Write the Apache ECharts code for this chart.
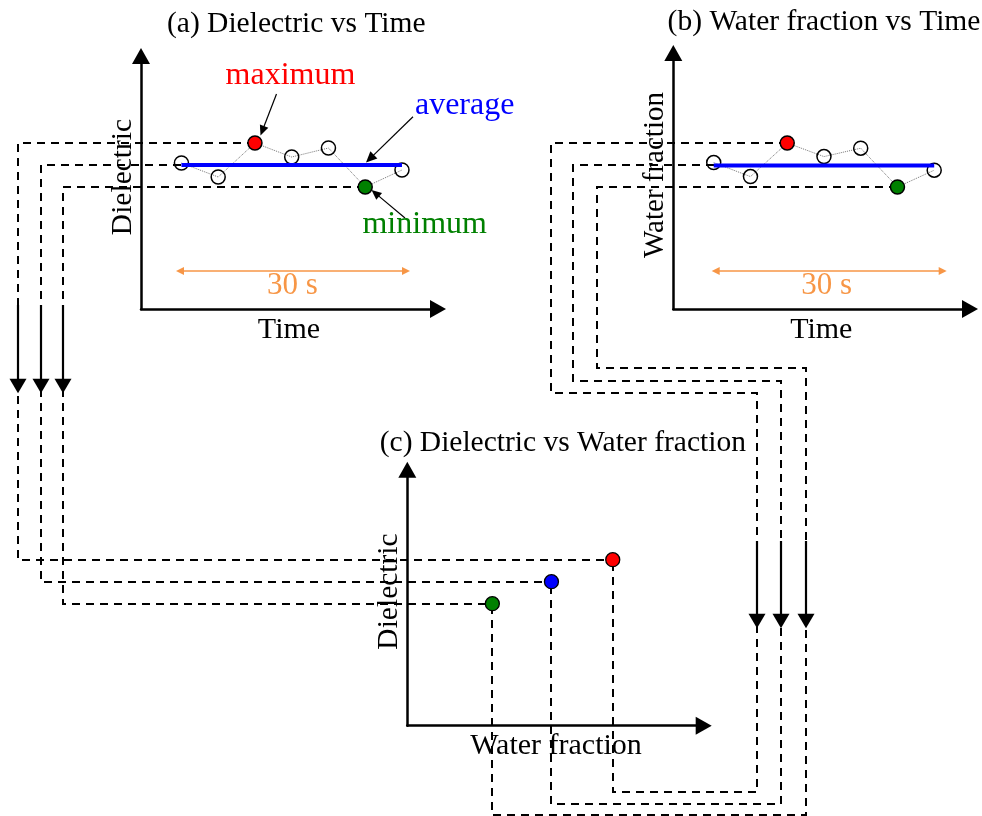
<!DOCTYPE html>
<html><head><meta charset="utf-8">
<script src="https://cdn.jsdelivr.net/npm/echarts@6/dist/echarts.min.js"></script>
<style>html,body{margin:0;padding:0;background:#fff}#chart{width:982px;height:816px}</style>
</head><body><div id="chart"></div>
<script>
// ---------- data ----------
const timeSeconds = [0, 5, 10, 15, 20, 25, 30];
const dielectricValues = [14.6, 13.2, 16.6, 15.2, 16.1, 12.2, 13.9];
const waterFractionValues = [0.366, 0.331, 0.415, 0.381, 0.402, 0.305, 0.347];
const dielectricAverage = 14.4;
const waterFractionAverage = 0.359;
const maxIndex = 2;
const minIndex = 5;
const summaryNames = ['maximum', 'average', 'minimum'];
const summaryDielectric = [16.6, 14.4, 12.2];
const summaryWaterFraction = [0.415, 0.359, 0.305];
const summaryColors = ['#ff0000', '#0000ff', '#008000'];
const panelTitles = ['(a) Dielectric vs Time', '(b) Water fraction vs Time', '(c) Dielectric vs Water fraction'];
const axisNames = { time: 'Time', dielectric: 'Dielectric', water: 'Water fraction' };
const windowLabel = '30 s';

// ---------- helpers ----------
const FONT = '"Liberation Serif", "Times New Roman", serif';
const ORANGE = '#F79646';
function axisBase(extra) {
  return Object.assign({
    type: 'value',
    axisLine: { show: true, onZero: false, symbol: ['none', 'triangle'], symbolSize: [18, 16],
      lineStyle: { color: '#000', width: 2.5 } },
    axisTick: { show: false }, axisLabel: { show: false }, splitLine: { show: false }
  }, extra);
}
function txt(text, x, y, size, color, rot) {
  return { type: 'text', x: x, y: y, rotation: rot || 0, z: 30,
    style: { text: text, font: size + 'px ' + FONT, fill: color,
      align: 'center', verticalAlign: 'middle', textAlign: 'center', textVerticalAlign: 'middle' } };
}
function head(tip, from, len, hw, color) {
  const dx = tip[0] - from[0], dy = tip[1] - from[1];
  const L = Math.sqrt(dx * dx + dy * dy);
  const ux = dx / L, uy = dy / L;
  const bx = tip[0] - ux * len, by = tip[1] - uy * len;
  return { type: 'polygon', z: 25, shape: { points: [[tip[0], tip[1]], [bx - uy * hw, by + ux * hw], [bx + uy * hw, by - ux * hw]] },
    style: { fill: color } };
}
function seg(p1, p2, color, w, z) {
  return { type: 'line', z: z || 25, shape: { x1: p1[0], y1: p1[1], x2: p2[0], y2: p2[1] }, style: { stroke: color, lineWidth: w } };
}
function arrow(from, tip, color, w, len, hw, out) {
  const dx = tip[0] - from[0], dy = tip[1] - from[1];
  const L = Math.sqrt(dx * dx + dy * dy);
  const end = [tip[0] - dx / L * len * 0.8, tip[1] - dy / L * len * 0.8];
  out.push(seg(from, end, color, w));
  out.push(head(tip, from, len, hw, color));
}

const chart = echarts.init(document.getElementById('chart'), null, { renderer: 'canvas' });

const timeSeriesA = timeSeconds.map((t, i) => {
  const item = { value: [t, dielectricValues[i]] };
  if (i === maxIndex) item.itemStyle = { color: summaryColors[0] };
  if (i === minIndex) item.itemStyle = { color: summaryColors[2] };
  return item;
});
const timeSeriesB = timeSeconds.map((t, i) => {
  const item = { value: [t, waterFractionValues[i]] };
  if (i === maxIndex) item.itemStyle = { color: summaryColors[0] };
  if (i === minIndex) item.itemStyle = { color: summaryColors[2] };
  return item;
});
const lastT = timeSeconds[timeSeconds.length - 1];

const pointStyle = { color: 'rgba(255,255,255,0)', borderColor: '#000', borderWidth: 1.5, opacity: 1 };
const dotted = { color: '#777', width: 1, type: 'dotted' };

chart.setOption({
  animation: false,
  backgroundColor: '#fff',
  grid: [
    { left: 141, top: 56, width: 297, height: 253 },
    { left: 673.3, top: 53, width: 296.7, height: 256 },
    { left: 407.3, top: 469.7, width: 296.4, height: 256 }
  ],
  xAxis: [
    axisBase({ gridIndex: 0, min: -5.5, max: 34.9 }),
    axisBase({ gridIndex: 1, min: -5.5, max: 34.87 }),
    axisBase({ gridIndex: 2, min: 0.2273, max: 0.4981 })
  ],
  yAxis: [
    axisBase({ gridIndex: 0, min: 0, max: 25.3 }),
    axisBase({ gridIndex: 1, min: 0, max: 0.64 }),
    axisBase({ gridIndex: 2, min: 0, max: 25.6 })
  ],
  series: [
    { type: 'line', name: 'Dielectric', xAxisIndex: 0, yAxisIndex: 0, data: timeSeriesA, symbol: 'circle', symbolSize: 14,
      itemStyle: pointStyle, lineStyle: dotted, z: 4, silent: true },
    { type: 'line', name: 'Dielectric average', xAxisIndex: 0, yAxisIndex: 0,
      data: [[timeSeconds[0], dielectricAverage], [lastT, dielectricAverage]], symbol: 'none',
      lineStyle: { color: '#0000ff', width: 4 }, z: 5, silent: true },
    { type: 'line', name: 'Water fraction', xAxisIndex: 1, yAxisIndex: 1, data: timeSeriesB, symbol: 'circle', symbolSize: 14,
      itemStyle: pointStyle, lineStyle: dotted, z: 4, silent: true },
    { type: 'line', name: 'Water fraction average', xAxisIndex: 1, yAxisIndex: 1,
      data: [[timeSeconds[0], waterFractionAverage], [lastT, waterFractionAverage]], symbol: 'none',
      lineStyle: { color: '#0000ff', width: 4 }, z: 5, silent: true },
    { type: 'scatter', name: 'Summary', xAxisIndex: 2, yAxisIndex: 2, symbolSize: 14, z: 6, silent: true,
      data: summaryNames.map((n, k) => ({ name: n, value: [summaryWaterFraction[k], summaryDielectric[k]],
        itemStyle: { color: summaryColors[k], borderColor: '#000', borderWidth: 1.3, opacity: 1 } })) }
  ]
});

// ---------- connectors & annotations ----------
const px = (gi, v) => chart.convertToPixel({ xAxisIndex: gi, yAxisIndex: gi }, v).map(Math.round);
const aPts = [px(0, [timeSeconds[maxIndex], dielectricValues[maxIndex]]), px(0, [timeSeconds[0], dielectricAverage]), px(0, [timeSeconds[minIndex], dielectricValues[minIndex]])];
const bPts = [px(1, [timeSeconds[maxIndex], waterFractionValues[maxIndex]]), px(1, [timeSeconds[0], waterFractionAverage]), px(1, [timeSeconds[minIndex], waterFractionValues[minIndex]])];
const cPts = summaryNames.map((n, k) => px(2, [summaryWaterFraction[k], summaryDielectric[k]]));

const leftLaneX = [18, 41, 63];
const bLaneX = [551, 573, 597];
const bLaneY = [393, 381, 368];
const rightLaneX = [757, 781, 806];
const bottomLaneY = [792, 804, 815];

const g = [];
const dashStyle = { stroke: '#000', lineWidth: 2, lineDash: [8, 6], fill: null };
for (let k = 0; k < 3; k++) {
  const a = aPts[k], b = bPts[k], c = cPts[k];
  g.push({ type: 'polyline', z: 1, shape: { points: [a, [leftLaneX[k], a[1]], [leftLaneX[k], c[1]], c] }, style: dashStyle });
  g.push({ type: 'polyline', z: 1, shape: { points: [b, [bLaneX[k], b[1]], [bLaneX[k], bLaneY[k]], [rightLaneX[k], bLaneY[k]],
    [rightLaneX[k], bottomLaneY[k]], [c[0], bottomLaneY[k]], c] }, style: dashStyle });
  arrow([leftLaneX[k], 305], [leftLaneX[k], 393.3], '#000', 2.2, 14.5, 8.5, g);
  arrow([rightLaneX[k], 541], [rightLaneX[k], 628.3], '#000', 2.2, 14.5, 8.5, g);
}

// annotation arrows in (a)
arrow([276.5, 94], [260.5, 135.5], '#000', 1.2, 10, 4.5, g);
arrow([413, 116.7], [366, 162.5], '#000', 1.2, 11, 5, g);
arrow([405, 218], [371.5, 190], '#000', 1.2, 10, 4.5, g);
// 30 s double arrows
[[176, 410], [711.7, 946.7]].forEach(r => {
  g.push(seg([r[0] + 5, 271], [r[1] - 5, 271], ORANGE, 1.5));
  g.push(head([r[0], 271], [r[1], 271], 8, 4, ORANGE));
  g.push(head([r[1], 271], [r[0], 271], 8, 4, ORANGE));
});

// texts
g.push(txt(panelTitles[0], 296.3, 24.3, 29.5, '#000'));
g.push(txt(panelTitles[1], 824, 22.3, 29.5, '#000'));
g.push(txt(panelTitles[2], 562.8, 443, 29.5, '#000'));
g.push(txt(axisNames.time, 289, 330, 30, '#000'));
g.push(txt(axisNames.time, 821.3, 330, 30, '#000'));
g.push(txt(axisNames.water, 556, 746, 30, '#000'));
g.push(txt(axisNames.dielectric, 123.3, 177, 29.5, '#000', Math.PI / 2));
g.push(txt(axisNames.water, 655.7, 175, 29, '#000', Math.PI / 2));
g.push(txt(axisNames.dielectric, 389, 591.5, 29.5, '#000', Math.PI / 2));
g.push(txt(summaryNames[0], 290.5, 75.8, 32, summaryColors[0]));
g.push(txt(summaryNames[1], 464.7, 105.8, 32, summaryColors[1]));
g.push(txt(summaryNames[2], 424.7, 224.1, 32, summaryColors[2]));
g.push(txt(windowLabel, 292.5, 286.2, 31, ORANGE));
g.push(txt(windowLabel, 826.7, 286.2, 31, ORANGE));

chart.setOption({ graphic: { elements: g } });
</script>
</body></html>
